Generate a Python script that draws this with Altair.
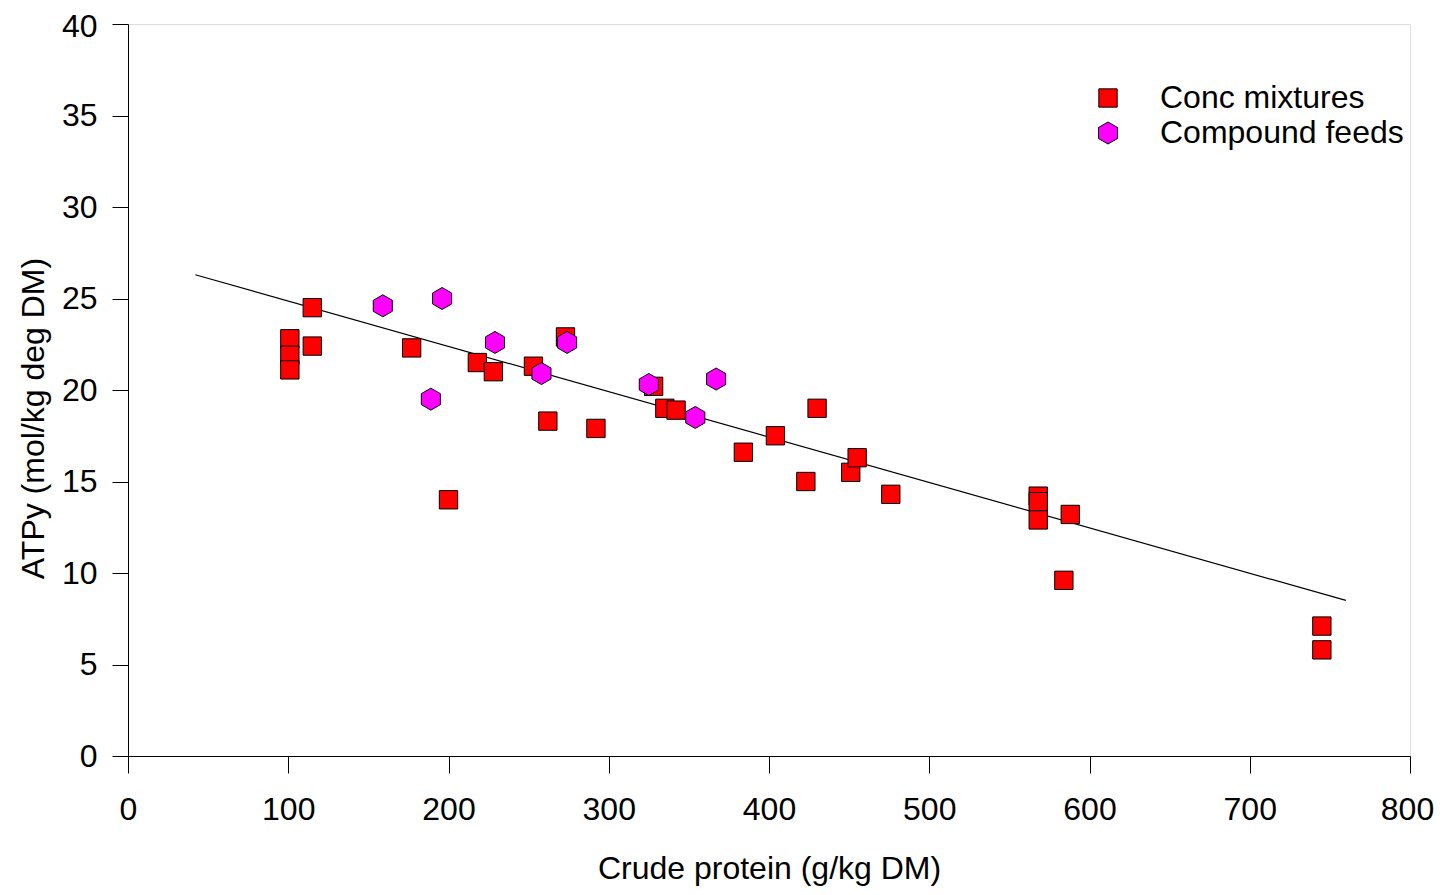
import altair as alt
import pandas as pd

# Conc mixtures
conc_x = [101, 101, 101, 115, 115, 177, 218, 228, 253, 273, 262, 200, 292, 328, 335, 342,
          384, 404, 430, 423, 451, 455, 476, 568, 568, 568, 588, 584, 745, 745]
conc_y = [22.8, 21.9, 21.1, 24.5, 22.4, 22.3, 21.5, 21.0, 21.3, 22.9, 18.3, 14.0, 17.9, 20.2, 19.0, 18.9,
          16.6, 17.5, 19.0, 15.0, 15.5, 16.3, 14.3, 14.2, 13.9, 12.9, 13.2, 9.6, 7.1, 5.8]
# Compound feeds
comp_x = [159, 196, 189, 229, 258, 274, 325, 367, 354]
comp_y = [24.6, 25.0, 19.5, 22.6, 20.9, 22.6, 20.3, 20.6, 18.5]
# Regression line end points
fit_x = [42, 760]
fit_y = [26.3, 8.5]

groups = ["Conc mixtures", "Compound feeds"]
colors = ["#ff0000", "#ff00ff"]
hexagon = "M0,-1.2L1.04,-0.6L1.04,0.6L0,1.2L-1.04,0.6L-1.04,-0.6Z"

pts = pd.DataFrame({
    "x": conc_x + comp_x,
    "y": conc_y + comp_y,
    "g": [groups[0]] * len(conc_x) + [groups[1]] * len(comp_x),
})
fit = pd.DataFrame({"x": fit_x, "y": fit_y})

FONT = "Liberation Sans"
FS = 32

xscale = alt.Scale(domain=[0, 800], nice=False, zero=False)
yscale = alt.Scale(domain=[0, 40], nice=False, zero=False)

xaxis = alt.Axis(values=list(range(0, 801, 100)), title="Crude protein (g/kg DM)",
                 grid=False, tickSize=17, labelPadding=21, labelFontSize=FS,
                 labelOffset={"condition": {"test": "datum.value == 800", "value": -3}, "value": 0},
                 titleFontSize=FS, titleFontWeight="normal", titleY=122,
                 titleBaseline="alphabetic", labelFont=FONT, titleFont=FONT,
                 domainColor="black", tickColor="black", labelColor="black",
                 titleColor="black", labelFlush=False)
yaxis = alt.Axis(values=list(range(0, 41, 5)), title="ATPy (mol/kg deg DM)",
                 grid=False, tickSize=16, labelPadding=15, labelFontSize=FS,
                 labelOffset={"condition": {"test": "datum.value == 40", "value": 2}, "value": 0},
                 titleFontSize=FS, titleFontWeight="normal", titleX=-85, titleY=394,
                 titleAngle=-90, titleAlign="center", titleBaseline="alphabetic",
                 labelFont=FONT, titleFont=FONT, domainColor="black", tickColor="black",
                 labelColor="black", titleColor="black", labelFlush=False)

line = alt.Chart(fit).mark_line(color="black", strokeWidth=1.2).encode(
    x=alt.X("x:Q", scale=xscale, axis=xaxis),
    y=alt.Y("y:Q", scale=yscale, axis=yaxis),
)

points = alt.Chart(pts).mark_point(filled=True, stroke="black", strokeWidth=1,
                                   opacity=1, size=336).encode(
    x=alt.X("x:Q", scale=xscale, axis=xaxis),
    y=alt.Y("y:Q", scale=yscale, axis=yaxis),
    fill=alt.Fill("g:N", scale=alt.Scale(domain=groups, range=colors),
                  legend=alt.Legend(title=None, orient="none", legendX=964, legendY=58,
                                    labelFontSize=FS, labelFont=FONT, labelColor="black",
                                    labelLimit=0, labelBaseline="middle",
                                    labelOffset=36, rowPadding=3, padding=0,
                                    symbolSize=336, symbolStrokeColor="black",
                                    symbolStrokeWidth=1, symbolOpacity=1)),
    shape=alt.Shape("g:N", scale=alt.Scale(domain=groups, range=["square", hexagon])),
    order=alt.Order("order:Q"),
).transform_calculate(order="datum.g == 'Compound feeds' ? 1 : 0")

chart = alt.layer(line, points).properties(
    width=1282, height=732,
    autosize=alt.AutoSizeParams(type="none"),
    padding={"left": 120, "top": 16, "right": 24, "bottom": 130},
).configure_view(stroke="black", strokeWidth=1).configure(background="white")

chart.save("out.html", embed_options={"renderer": "svg", "actions": False})
